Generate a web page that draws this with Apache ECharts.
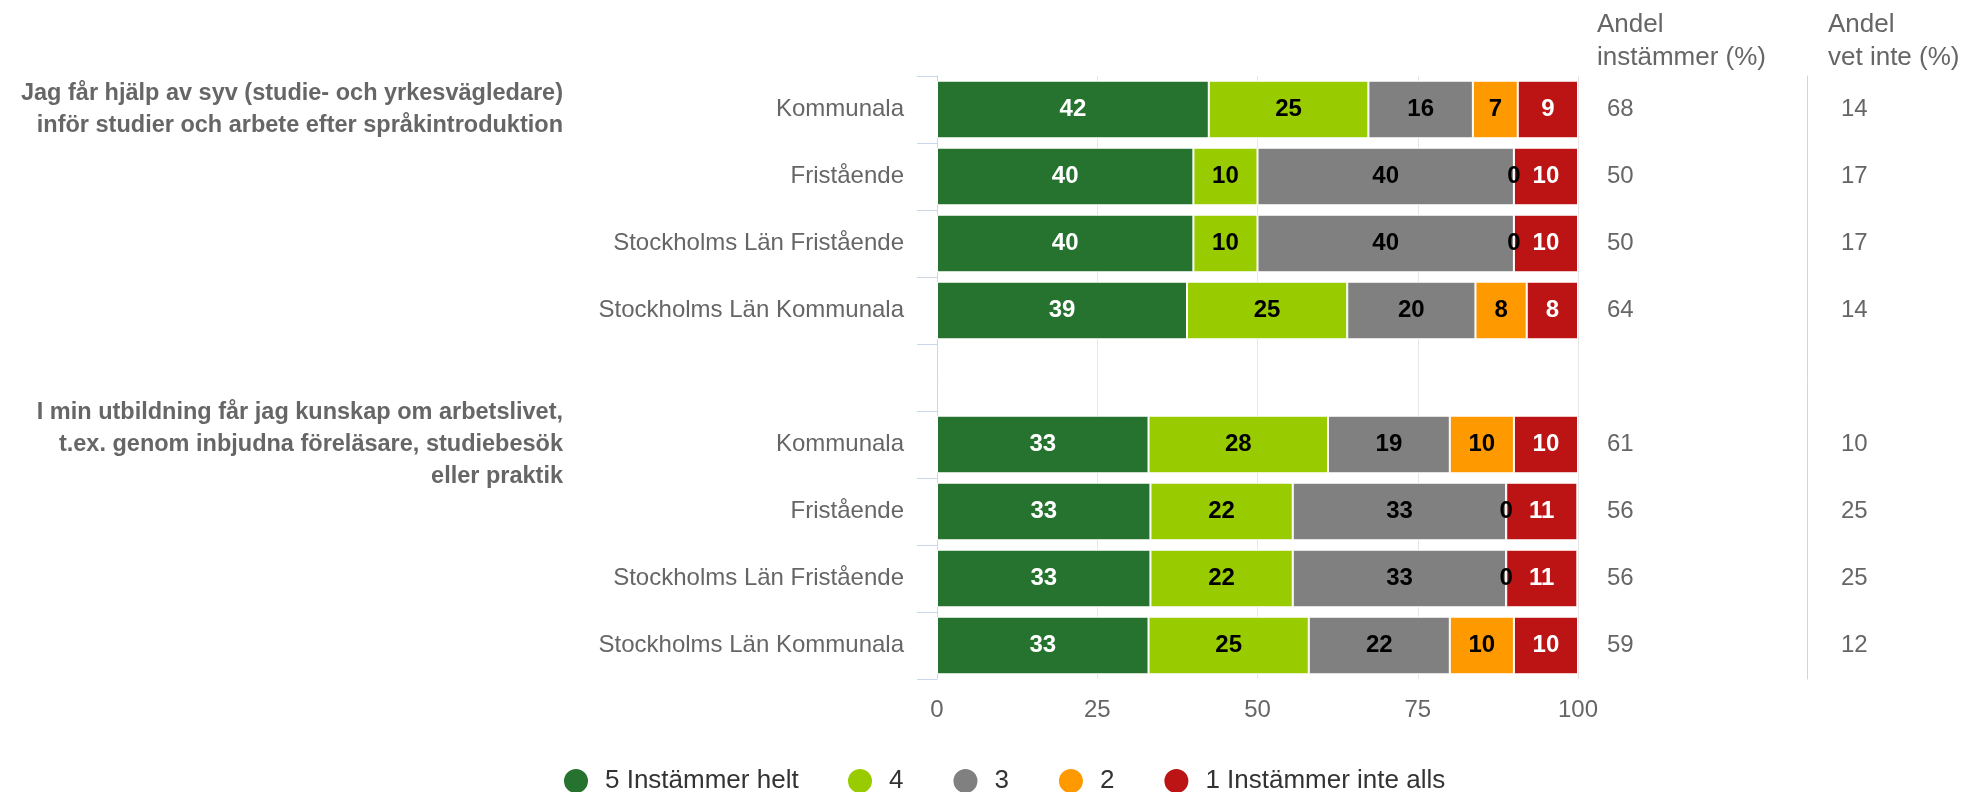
<!DOCTYPE html>
<html lang="sv">
<head>
<meta charset="utf-8">
<title>Syv och arbetsliv</title>
<script src="https://cdn.jsdelivr.net/npm/echarts@6/dist/echarts.min.js"></script>
<style>
  html, body { margin: 0; padding: 0; background: #fff; }
  #chart { width: 1970px; height: 792px; }
</style>
</head>
<body>
<div id="chart"></div>
<script>
// rows top to bottom, '' is the empty spacer row between the two questions
const categories = [
  'Kommunala', 'Fristående', 'Stockholms Län Fristående', 'Stockholms Län Kommunala',
  '',
  'Kommunala', 'Fristående', 'Stockholms Län Fristående', 'Stockholms Län Kommunala'
];
const groupLabels = [
  'Jag får hjälp av syv (studie- och yrkesvägledare)\ninför studier och arbete efter språkintroduktion', '', '', '',
  '',
  'I min utbildning får jag kunskap om arbetslivet,\nt.ex. genom inbjudna föreläsare, studiebesök\neller praktik', '', '', ''
];
const seriesNames = ['5 Instämmer helt', '4', '3', '2', '1 Instämmer inte alls'];
const val5 = [42.4, 40, 40, 39, '-', 33, 33.3, 33.3, 33];
const val4 = [24.9, 10, 10, 25, '-', 28, 22.2, 22.2, 25];
const val3 = [16.3, 40, 40, 20, '-', 19, 33.3, 33.3, 22];
const val2 = [7.0, 0, 0, 8, '-', 10, 0, 0, 10];
const val1 = [9.4, 10, 10, 8, '-', 10, 11.1, 11.1, 10];
const agreeShare = ['68', '50', '50', '64', '', '61', '56', '56', '59'];
const dontKnowShare = ['14', '17', '17', '14', '', '10', '25', '25', '12'];
const xTicks = [0, 25, 50, 75, 100];

const colors = ['#25732f', '#99cc00', '#808080', '#ff9900', '#bc1414'];
const labelColors = ['#ffffff', '#000000', '#000000', '#000000', '#ffffff'];
const font = 'Liberation Sans, Arial, Helvetica, sans-serif';

const chart = echarts.init(document.getElementById('chart'));

const values = [val5, val4, val3, val2, val1];
const series = values.map((data, i) => ({
  name: seriesNames[i],
  type: 'bar',
  stack: 'total',
  data: data,
  barCategoryGap: '14%',
  itemStyle: { color: colors[i], borderColor: '#ffffff', borderWidth: 1 },
  label: {
    show: true,
    position: 'inside',
    formatter: (p) => Math.round(p.value),
    color: labelColors[i],
    fontFamily: font,
    fontSize: 24,
    fontWeight: 'bold'
  },
  emphasis: { disabled: true }
}));

const legendBase = {
  top: 767,
  padding: 0,
  icon: 'circle',
  itemWidth: 26,
  itemHeight: 26,
  itemGap: 48,
  selectedMode: false,
  textStyle: { color: '#333333', fontSize: 26, fontFamily: font, padding: [0, 0, 0, 11] }
};

const option = {
  animation: false,
  color: colors,
  textStyle: { fontFamily: font },
  title: [
    {
      text: 'Andel\ninstämmer (%)',
      left: 1597, top: 8, padding: 0,
      textStyle: { fontFamily: font, fontSize: 26, fontWeight: 'normal', color: '#666666', lineHeight: 33 }
    },
    {
      text: 'Andel\nvet inte (%)',
      left: 1828, top: 8, padding: 0,
      textStyle: { fontFamily: font, fontSize: 26, fontWeight: 'normal', color: '#666666', lineHeight: 33 }
    }
  ],
  grid: { left: 937, right: 392, top: 76, bottom: 113 },
  xAxis: {
    type: 'value',
    min: xTicks[0],
    max: xTicks[xTicks.length - 1],
    interval: xTicks[1] - xTicks[0],
    axisLine: { show: false },
    axisTick: { show: false },
    splitLine: { lineStyle: { color: '#e6e6e6', width: 1 } },
    axisLabel: { color: '#666666', fontSize: 24, fontFamily: font, margin: 19 }
  },
  yAxis: [
    {
      type: 'category',
      data: categories,
      inverse: true,
      position: 'left',
      axisLine: { show: true, lineStyle: { color: '#ccd6eb' } },
      axisTick: { show: true, length: 20, lineStyle: { color: '#ccd6eb' } },
      axisLabel: { interval: 0, color: '#666666', fontSize: 24, fontFamily: font, margin: 33 }
    },
    {
      type: 'category',
      data: agreeShare,
      inverse: true,
      position: 'right',
      offset: 0,
      axisLine: { show: false },
      axisTick: { show: false },
      axisLabel: { interval: 0, color: '#666666', fontSize: 24, fontFamily: font, margin: 29 }
    },
    {
      type: 'category',
      data: dontKnowShare,
      inverse: true,
      position: 'right',
      offset: 229,
      axisLine: { show: true, lineStyle: { color: '#ccd6eb' } },
      axisTick: { show: false },
      axisLabel: { interval: 0, color: '#666666', fontSize: 24, fontFamily: font, margin: 34 }
    },
    {
      type: 'category',
      data: groupLabels,
      inverse: true,
      position: 'left',
      offset: 0,
      axisLine: { show: false },
      axisTick: { show: false },
      axisLabel: {
        interval: 0, color: '#666666', fontSize: 23.5, fontWeight: 'bold',
        fontFamily: font, margin: 374, lineHeight: 32, align: 'right'
      }
    }
  ],
  legend: [
    Object.assign({}, legendBase, { data: seriesNames.slice(0, 1), left: 562 }),
    Object.assign({}, legendBase, { data: seriesNames.slice(1), left: 846 })
  ],
  series: series
};

chart.setOption(option);
</script>
</body>
</html>
